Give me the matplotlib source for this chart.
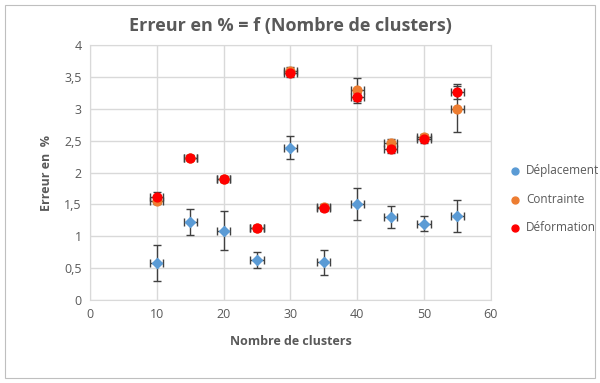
import matplotlib.pyplot as plt
from matplotlib.ticker import FuncFormatter
from matplotlib.patches import Rectangle

# données
clusters = [10, 15, 20, 25, 30, 35, 40, 45, 50, 55]
deplacement = [0.58, 1.22, 1.09, 0.63, 2.39, 0.59, 1.50, 1.30, 1.20, 1.32]
err_deplacement = [0.28, 0.20, 0.30, 0.13, 0.18, 0.20, 0.25, 0.17, 0.11, 0.25]
contrainte = [1.56, 2.23, 1.90, 1.13, 3.59, 1.46, 3.29, 2.47, 2.55, 3.00]
err_contrainte = [0.06, 0.04, 0.05, 0.05, 0.06, 0.05, 0.20, 0.06, 0.05, 0.36]
deformation = [1.62, 2.23, 1.90, 1.13, 3.56, 1.45, 3.18, 2.37, 2.52, 3.27]
err_deformation = [0.08, 0.04, 0.05, 0.05, 0.06, 0.05, 0.06, 0.06, 0.05, 0.12]
err_x = 1.0

plt.rcParams['font.family'] = ['Open Sans', 'DejaVu Sans']

fig = plt.figure(figsize=(6, 3.83), dpi=100)
fig.patches.append(Rectangle((0.008, 0.013), 0.984, 0.975, transform=fig.transFigure,
                             fill=False, edgecolor='#bfbfbf', linewidth=0.8))
ax = fig.add_axes([0.15, 0.2167, 0.668, 0.6658])

ebar = dict(fmt='none', ecolor='#404040', elinewidth=1, capsize=3, capthick=1, zorder=2)
ax.errorbar(clusters, deplacement, yerr=err_deplacement, xerr=err_x, **ebar)
ax.errorbar(clusters, contrainte, yerr=err_contrainte, xerr=err_x, **ebar)
ax.errorbar(clusters, deformation, yerr=err_deformation, xerr=err_x, **ebar)
ax.scatter(clusters, deplacement, marker='D', s=26, color='#5b9bd5', zorder=3)
ax.scatter(clusters, contrainte, marker='o', s=40, color='#ed7d31', zorder=3)
ax.scatter(clusters, deformation, marker='o', s=40, color='#ff0000', zorder=4)

ax.set_xlim(0, 60)
ax.set_ylim(0, 4)
ax.set_xticks(range(0, 61, 10))
ax.set_yticks([i * 0.5 for i in range(9)])
ax.yaxis.set_major_formatter(FuncFormatter(lambda v, p: ('%g' % v).replace('.', ',')))
ax.grid(True, color='#d9d9d9', linewidth=1)
ax.set_axisbelow(True)
for s in ax.spines.values():
    s.set_color('#d9d9d9')
ax.tick_params(length=0, labelsize=9, colors='#595959', pad=6)

ax.set_title('Erreur en % = f (Nombre de clusters)', fontsize=13, fontweight='bold',
             color='#595959', pad=10)
ax.set_xlabel('Nombre de clusters', fontsize=9, fontweight='bold', color='#595959', labelpad=10)
ax.set_ylabel('Erreur en  %', fontsize=9, fontweight='bold', color='#595959', labelpad=8)

h1 = ax.scatter([], [], marker='o', s=25, color='#5b9bd5')
h2 = ax.scatter([], [], marker='o', s=25, color='#ed7d31')
h3 = ax.scatter([], [], marker='o', s=25, color='#ff0000')
fig.legend([h1, h2, h3], ['Déplacement', 'Contrainte', 'Déformation'],
           loc='center left', bbox_to_anchor=(0.83, 0.48), frameon=False,
           fontsize=8.5, handletextpad=0.0, labelspacing=1.3, labelcolor='#595959',
           borderaxespad=0)

plt.savefig('out.png', dpi=100)
